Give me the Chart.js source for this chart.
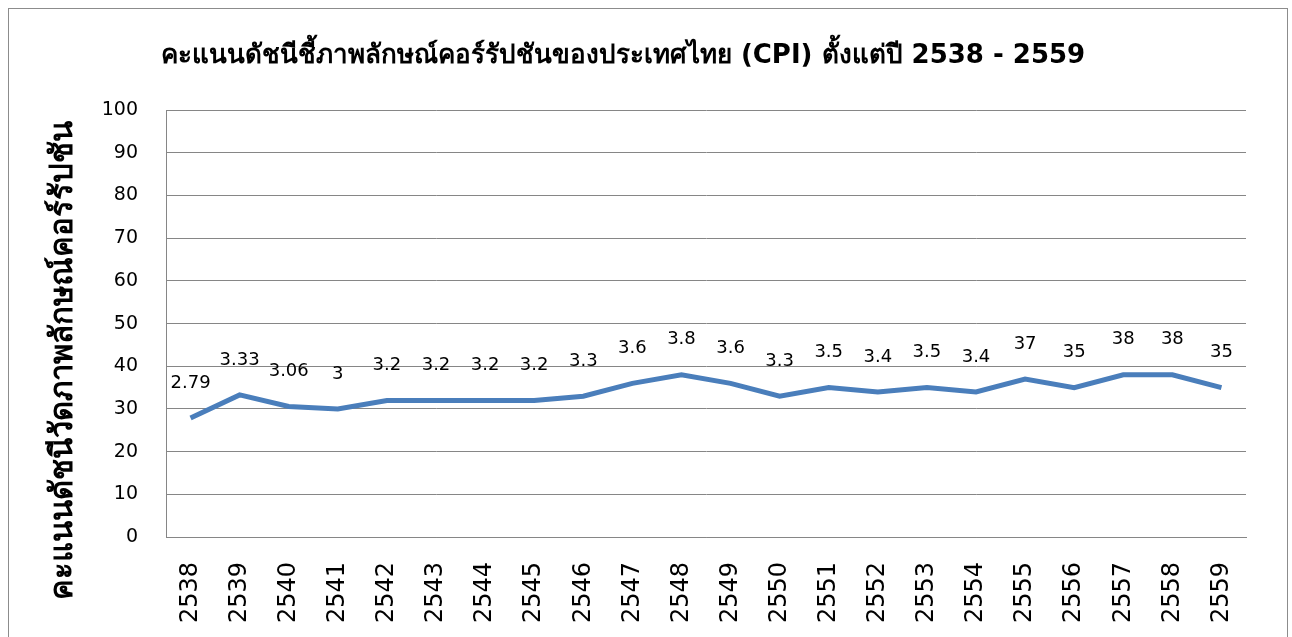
<!DOCTYPE html>
<html>
<head>
<meta charset="utf-8">
<script src="https://cdn.jsdelivr.net/npm/chart.js@4.4.1/dist/chart.umd.min.js"></script>
<style>
  body { margin: 0; background: #fff; }
  #wrap { width: 1292px; height: 637px; }
</style>
</head>
<body>
<div id="wrap"><canvas id="myChart" width="1292" height="637"></canvas></div>
<script>
const ctx = document.getElementById('myChart').getContext('2d');

// ปี พ.ศ.
const ปี = ['2538', '2539', '2540', '2541', '2542', '2543', '2544', '2545', '2546', '2547', '2548',
  '2549', '2550', '2551', '2552', '2553', '2554', '2555', '2556', '2557', '2558', '2559'];
// คะแนนที่ใช้วาดเส้น (สเกล 100)
const คะแนน = [27.9, 33.3, 30.6, 30, 32, 32, 32, 32, 33, 36, 38, 36, 33, 35, 34, 35, 34, 37, 35, 38, 38, 35];
// ป้ายตัวเลขตามต้นฉบับ (ก่อนปี 2555 ใช้สเกล 10)
const ป้ายคะแนน = ['2.79', '3.33', '3.06', '3', '3.2', '3.2', '3.2', '3.2', '3.3', '3.6', '3.8',
  '3.6', '3.3', '3.5', '3.4', '3.5', '3.4', '37', '35', '38', '38', '35'];

const fontหลัก = 'Tahoma, "DejaVu Sans", sans-serif';
const ชื่อแกนY = 'คะแนนดัชนีวัดภาพลักษณ์คอร์รัปชัน';

// ป้ายข้อมูลเหนือจุด, ชื่อแกน y และกรอบรอบภาพ
const ป้ายข้อมูล = {
  id: 'dataLabels',
  beforeDraw(chart) {
    const c = chart.ctx;
    c.save();
    c.strokeStyle = '#8c8c8c';
    c.lineWidth = 1;
    c.strokeRect(8.5, 8.5, 1279, 700);
    c.restore();
  },
  afterDatasetsDraw(chart) {
    const c = chart.ctx;
    const meta = chart.getDatasetMeta(0);
    c.save();
    c.font = '18px ' + fontหลัก;
    c.fillStyle = '#000';
    c.textAlign = 'center';
    c.textBaseline = 'middle';
    meta.data.forEach((pt, i) => {
      c.fillText(ป้ายคะแนน[i], pt.x, pt.y - 35);
    });
    // ชื่อแกน y
    c.translate(72, 360);
    c.rotate(-Math.PI / 2);
    c.font = 'bold 31px ' + fontหลัก;
    c.textBaseline = 'alphabetic';
    c.fillText(ชื่อแกนY, 0, 0);
    c.restore();
  }
};

new Chart(ctx, {
  type: 'line',
  data: {
    labels: ปี,
    datasets: [{
      label: 'CPI',
      data: คะแนน,
      borderColor: '#4a7ebb',
      backgroundColor: '#4a7ebb',
      borderWidth: 5,
      pointRadius: 0,
      fill: false,
      tension: 0
    }]
  },
  options: {
    responsive: false,
    animation: false,
    layout: { padding: { left: 0, right: 46, top: 0, bottom: 0 } },
    plugins: {
      legend: { display: false },
      tooltip: { enabled: false },
      title: {
        display: true,
        text: 'คะแนนดัชนีชี้ภาพลักษณ์คอร์รัปชันของประเทศไทย (CPI) ตั้งแต่ปี 2538 - 2559',
        color: '#000',
        font: { family: fontหลัก, size: 26, weight: 'bold' },
        padding: { top: 41, bottom: 38 }
      }
    },
    scales: {
      x: {
        offset: true,
        grid: { display: false, drawTicks: false },
        border: { color: '#868686', width: 1 },
        ticks: {
          color: '#000',
          font: { family: fontหลัก, size: 24 },
          maxRotation: 90,
          minRotation: 90,
          padding: 25,
          autoSkip: false
        },
        afterFit(scale) { scale.height = 100; }
      },
      y: {
        min: 0,
        max: 100,
        grid: { color: '#868686', lineWidth: 1, drawTicks: false },
        border: { color: '#868686', width: 1 },
        ticks: {
          stepSize: 10,
          color: '#000',
          font: { family: fontหลัก, size: 19 },
          padding: 28
        },
        afterFit(scale) { scale.width = 166; }
      }
    }
  },
  plugins: [ป้ายข้อมูล]
});
</script>
</body>
</html>
